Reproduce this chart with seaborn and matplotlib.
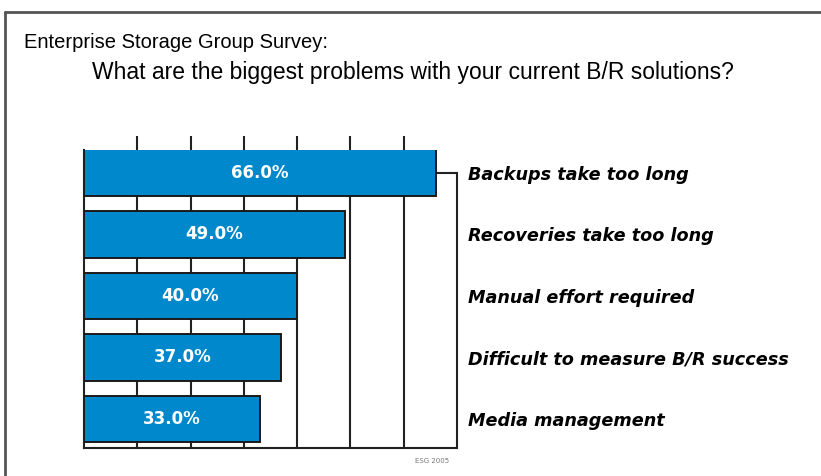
import matplotlib
matplotlib.use("Agg")
import matplotlib.pyplot as plt
import seaborn as sns
from matplotlib.lines import Line2D

# data
problems = ["Backups take too long", "Recoveries take too long",
            "Manual effort required", "Difficult to measure B/R success",
            "Media management"]
shares = [66.0, 49.0, 40.0, 37.0, 33.0]
x_max = 70

sns.set_theme(style="white")
plt.rcParams["font.family"] = ["DejaVu Sans"]

fig = plt.figure(figsize=(8.21, 4.76), dpi=100)
fig.patch.set_facecolor("white")
ax = fig.add_axes([0.1023, 0.0588, 0.4543, 0.6261])

sns.barplot(x=shares, y=problems, orient="h", color="#0088CC",
            edgecolor="#1a1a1a", linewidth=1.4, width=0.76, ax=ax,
            saturation=1, zorder=3)

ax.set_xlim(0, x_max)
ax.set_ylim(len(problems) - 0.53, -0.37)
# only the inner gridlines carry ticks on top
ax.set_xticks(range(10, x_max, 10))
ax.xaxis.tick_top()
ax.tick_params(axis="x", which="both", top=True, bottom=False, length=10,
               width=1.5, color="#222222", labeltop=False, labelbottom=False)
ax.xaxis.grid(True, color="#222222", linewidth=1.5, zorder=0)
ax.set_axisbelow(True)
ax.set_xlabel("")
ax.set_ylabel("")

# category names on the right side
ax.yaxis.tick_right()
ax.tick_params(axis="y", length=0, pad=8)
for lab in ax.get_yticklabels():
    lab.set_fontweight("bold")
    lab.set_fontstyle("italic")
    lab.set_fontsize(12.7)
    lab.set_color("black")

for side in ["left", "bottom", "right"]:
    ax.spines[side].set_color("#222222")
    ax.spines[side].set_linewidth(1.5)
ax.spines["top"].set_visible(False)
ax.spines["right"].set_bounds(0, len(problems) - 0.53)

# connector from first bar to right edge
ax.plot([shares[0], x_max], [0, 0], color="#222222", lw=1.5, zorder=2,
        solid_capstyle="projecting")

# value labels in bars
for i, v in enumerate(shares):
    ax.text(v / 2, i, f"{v:.1f}%", ha="center", va="center", color="white",
            fontsize=12, fontweight="bold", zorder=5)

# titles
fig.text(24 / 821, 1 - 43 / 476, "Enterprise Storage Group Survey:",
         fontsize=14.5, family="Liberation Sans", va="center", ha="left",
         color="black")
fig.text(92 / 821, 1 - 73 / 476,
         "What are the biggest problems with your current B/R solutions?",
         fontsize=16.5, family="Liberation Sans", va="center", ha="left",
         color="black")
fig.text(432 / 821, 1 - 461 / 476, "ESG 2005", fontsize=5, color="#777777",
         ha="center", va="center")

# outer frame
fig.add_artist(Line2D([5 / 821, 1], [1 - 12 / 476, 1 - 12 / 476],
                      color="#555555", lw=2))
fig.add_artist(Line2D([5 / 821, 5 / 821], [0, 1 - 12 / 476],
                      color="#555555", lw=2))

fig.savefig("out.png", dpi=100, facecolor="white")
